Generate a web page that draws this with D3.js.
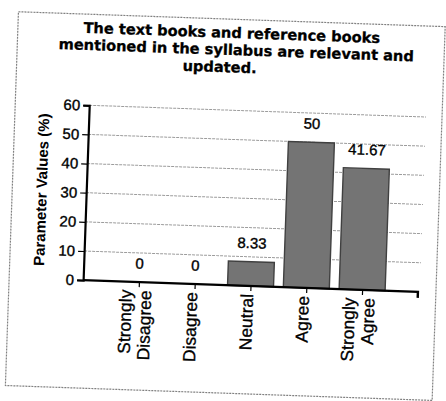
<!DOCTYPE html>
<html>
<head>
<meta charset="utf-8">
<script src="https://cdn.jsdelivr.net/npm/d3@7"></script>
<style>
  html, body { margin: 0; padding: 0; background: #ffffff; }
  svg { display: block; }
</style>
</head>
<body>
<script>
// ---- data ----
const categories = [["Strongly", "Disagree"], ["Disagree"], ["Neutral"], ["Agree"], ["Strongly", "Agree"]];
const categoryKeys = ["Strongly Disagree", "Disagree", "Neutral", "Agree", "Strongly Agree"];
const values = [0, 0, 8.33, 50, 41.67];
const valueLabels = ["0", "0", "8.33", "50", "41.67"];
const yTicks = [0, 10, 20, 30, 40, 50, 60];
const titleLines = ["The text books and reference books", "mentioned in the syllabus are relevant and", "updated."];
const yAxisTitle = "Parameter Values (%)";

const W = 446, H = 401;
const svg = d3.select("body").append("svg").attr("width", W).attr("height", H);
svg.append("rect").attr("width", W).attr("height", H).attr("fill", "#fff");

// whole scanned page is slightly rotated
const g = svg.append("g").attr("transform", "rotate(2,223,200)");

// frame
g.append("rect").attr("x", 12).attr("y", 19).attr("width", 427).attr("height", 374)
  .attr("fill", "none").attr("stroke", "#808080").attr("stroke-width", 1.2).attr("stroke-dasharray", "2,1");

const x = d3.scalePoint().domain(categoryKeys).range([86, 421]).padding(1);
const y = d3.scaleLinear().domain([0, 60]).range([285, 110]);
const barW = 46;

// title
const titleX = [226, 231, 215];
const titleY = [37.7, 54.8, 72.2];
g.selectAll("text.title").data(titleLines).enter().append("text")
  .attr("class", "title")
  .attr("x", (d, i) => titleX[i]).attr("y", (d, i) => titleY[i])
  .attr("text-anchor", "middle")
  .attr("font-family", "DejaVu Sans, Verdana, sans-serif")
  .attr("font-weight", "bold").attr("font-size", 14.6)
  .attr("fill", "#000").attr("stroke", "#000").attr("stroke-width", 0.3)
  .text(d => d);

// gridlines
g.append("g").selectAll("line").data(yTicks.filter(t => t > 0)).enter().append("line")
  .attr("x1", 86).attr("x2", 423).attr("y1", d => y(d)).attr("y2", d => y(d))
  .attr("stroke", "#9c9c9c").attr("stroke-width", 1).attr("stroke-dasharray", "3,1");

// bars
g.append("g").selectAll("rect").data(values).enter().append("rect")
  .attr("x", (d, i) => x(categoryKeys[i]) - barW / 2)
  .attr("y", d => y(d))
  .attr("width", barW)
  .attr("height", d => y(0) - y(d))
  .attr("fill", "#747474").attr("stroke", "#404040").attr("stroke-width", 1.4);

// y axis
const yAxis = d3.axisLeft(y).tickValues(yTicks).tickSize(6).tickPadding(3);
const ya = g.append("g").attr("transform", "translate(86,0)").call(yAxis);
ya.select(".domain").attr("stroke", "#000").attr("stroke-width", 2.2);
ya.selectAll(".tick line").attr("stroke", "#000").attr("stroke-width", 1.2);
ya.selectAll(".tick text").attr("font-family", "Liberation Sans, Arial, sans-serif")
  .attr("font-size", 15).attr("fill", "#000").attr("stroke", "#000").attr("stroke-width", 0.35);

// x axis
const xAxis = d3.axisBottom(x).tickSize(5).tickFormat("");
const xa = g.append("g").attr("transform", "translate(0,285)").call(xAxis);
xa.select(".domain").attr("d", "M86,0H421V6").attr("stroke", "#000").attr("stroke-width", 2.4).attr("fill", "none");
xa.selectAll(".tick line").attr("stroke", "#000").attr("stroke-width", 1.2);

// x labels (rotated)
const xl = g.append("g").selectAll("text").data(categories).enter().append("text")
  .attr("transform", (d, i) => `translate(${x(categoryKeys[i]) - 3},293) rotate(-90)`)
  .attr("text-anchor", "end")
  .attr("font-family", "Liberation Sans, Arial, sans-serif")
  .attr("font-size", 17.5).attr("fill", "#000").attr("stroke", "#000").attr("stroke-width", 0.3);
xl.each(function (lines) {
  const t = d3.select(this);
  const n = lines.length;
  lines.forEach((ln, k) => {
    t.append("tspan").attr("x", 0)
      .attr("y", (k - (n - 1) / 2) * 19.5)
      .attr("dominant-baseline", "central")
      .text(ln);
  });
});

// value labels
g.append("g").selectAll("text").data(values).enter().append("text")
  .attr("x", (d, i) => x(categoryKeys[i]))
  .attr("y", d => y(d) - 13.5)
  .attr("text-anchor", "middle")
  .attr("font-family", "Liberation Sans, Arial, sans-serif")
  .attr("font-size", 15).attr("fill", "#000").attr("stroke", "#000").attr("stroke-width", 0.35)
  .text((d, i) => valueLabels[i]);

// y axis title
g.append("text")
  .attr("transform", "translate(41,196) rotate(-90)")
  .attr("text-anchor", "middle").attr("dominant-baseline", "central")
  .attr("font-family", "Liberation Sans, Arial, sans-serif")
  .attr("font-weight", "bold").attr("font-size", 15).attr("fill", "#000")
  .text(yAxisTitle);
</script>
</body>
</html>
